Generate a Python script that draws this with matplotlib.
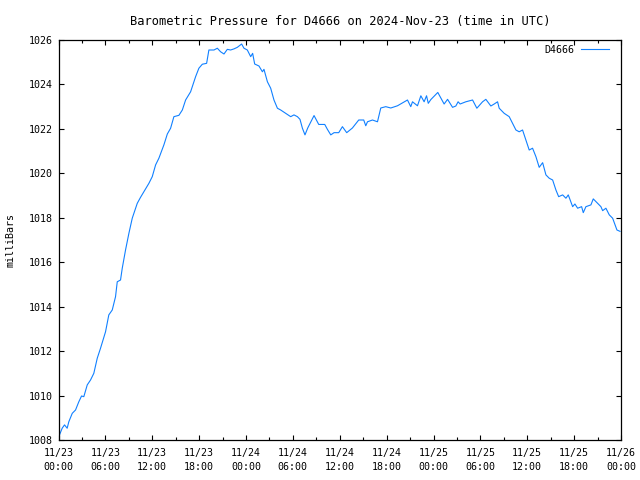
import numpy as np
import matplotlib
matplotlib.use("Agg")
import matplotlib.pyplot as plt
from matplotlib.ticker import MultipleLocator

# hours since 2024-11-23 00:00 UTC
hours = [0.04, 0.47, 0.77, 1.11, 1.32, 1.76, 2.18, 2.60, 2.95, 3.24, 3.68, 4.10,
         4.52, 4.96, 5.38, 6.02, 6.44, 6.88, 7.30, 7.52, 7.94, 8.16, 8.58, 9.01,
         9.44, 9.65, 10.08, 10.50, 10.93, 11.57, 12.00, 12.43, 12.85, 13.49, 13.93,
         14.35, 14.77, 15.41, 15.85, 16.27, 16.91, 17.55, 17.97, 18.41, 18.96, 19.25,
         19.90, 20.33, 20.75, 21.18, 21.61, 22.03, 22.46, 22.89, 23.44, 23.74, 24.17,
         24.60, 24.85, 25.11, 25.66, 26.10, 26.30, 26.74, 27.16, 27.58, 28.02, 28.44,
         29.08, 29.72, 30.14, 30.58, 30.91, 31.22, 31.55, 31.90, 32.71, 33.31, 34.08,
         34.42, 34.85, 35.27, 35.87, 36.34, 36.89, 37.62, 38.43, 39.07, 39.33, 39.55,
         40.19, 40.83, 41.25, 41.89, 42.53, 43.39, 44.67, 45.09, 45.31, 45.95, 46.38,
         46.80, 47.11, 47.33, 47.66, 48.55, 49.36, 49.80, 50.44, 50.86, 51.15, 51.41,
         52.14, 53.00, 53.55, 54.28, 54.70, 55.34, 55.77, 56.20, 56.41, 57.05, 57.69,
         58.12, 58.55, 58.97, 59.40, 59.83, 60.25, 60.68, 61.11, 61.53, 61.97, 62.39,
         62.81, 63.25, 63.67, 64.02, 64.53, 64.95, 65.25, 65.81, 66.10, 66.45, 66.96,
         67.17, 67.51, 68.15, 68.45, 69.01, 69.43, 69.65, 70.07, 70.50, 70.93, 71.48,
         71.87]

pressure = [1008.15, 1008.53, 1008.68, 1008.53, 1008.82, 1009.20, 1009.35, 1009.72,
            1009.98, 1009.95, 1010.48, 1010.70, 1011.00, 1011.68, 1012.13, 1012.87,
            1013.63, 1013.85, 1014.45, 1015.12, 1015.20, 1015.73, 1016.55, 1017.30,
            1017.98, 1018.20, 1018.65, 1018.92, 1019.17, 1019.55, 1019.85, 1020.38,
            1020.68, 1021.28, 1021.77, 1022.03, 1022.55, 1022.61, 1022.85, 1023.30,
            1023.67, 1024.35, 1024.73, 1024.91, 1024.95, 1025.55, 1025.55, 1025.63,
            1025.47, 1025.37, 1025.58, 1025.55, 1025.60, 1025.67, 1025.82, 1025.63,
            1025.55, 1025.25, 1025.40, 1024.92, 1024.83, 1024.57, 1024.68, 1024.12,
            1023.83, 1023.30, 1022.93, 1022.85, 1022.70, 1022.55, 1022.63, 1022.55,
            1022.43, 1022.03, 1021.73, 1022.04, 1022.60, 1022.20, 1022.20, 1021.98,
            1021.73, 1021.83, 1021.83, 1022.10, 1021.83, 1022.04, 1022.40, 1022.40,
            1022.14, 1022.32, 1022.40, 1022.32, 1022.94, 1023.00, 1022.94, 1023.04,
            1023.30, 1023.00, 1023.22, 1023.04, 1023.49, 1023.22, 1023.49, 1023.15,
            1023.32, 1023.64, 1023.12, 1023.33, 1022.97, 1023.03, 1023.22, 1023.12,
            1023.22, 1023.30, 1022.93, 1023.22, 1023.33, 1023.03, 1023.12, 1023.22,
            1022.93, 1022.70, 1022.55, 1022.25, 1021.95, 1021.87, 1021.95, 1021.50,
            1021.05, 1021.13, 1020.75, 1020.27, 1020.48, 1019.93, 1019.78, 1019.70,
            1019.25, 1018.95, 1019.03, 1018.88, 1019.03, 1018.50, 1018.62, 1018.43,
            1018.50, 1018.23, 1018.50, 1018.58, 1018.85, 1018.65, 1018.50, 1018.32,
            1018.43, 1018.13, 1017.98, 1017.45, 1017.39]

xtick_hours = [0, 6, 12, 18, 24, 30, 36, 42, 48, 54, 60, 66, 72]
xtick_labels = ["11/23\n00:00", "11/23\n06:00", "11/23\n12:00", "11/23\n18:00",
                "11/24\n00:00", "11/24\n06:00", "11/24\n12:00", "11/24\n18:00",
                "11/25\n00:00", "11/25\n06:00", "11/25\n12:00", "11/25\n18:00",
                "11/26\n00:00"]
ytick_values = [1008, 1010, 1012, 1014, 1016, 1018, 1020, 1022, 1024, 1026]

plt.rcParams['font.family'] = ['DejaVu Sans Mono']
plt.rcParams['font.size'] = 7.2

fig = plt.figure(figsize=(6.4, 4.8), dpi=100)
ax = fig.add_axes([58.5 / 640, 40 / 480, 562.5 / 640, 400 / 480])

ax.plot(hours, pressure, color='#1080ff', linewidth=0.8, label='D4666')

ax.set_xlim(0, 72)
ax.set_ylim(1008, 1026)
ax.set_xticks(xtick_hours)
ax.set_xticklabels(xtick_labels, linespacing=1.45)
ax.xaxis.set_minor_locator(MultipleLocator(3))
ax.set_yticks(ytick_values)
ax.tick_params(which='both', direction='in', top=True, right=True,
               width=0.8, colors='black')
ax.tick_params(which='major', length=3.5)
ax.tick_params(which='minor', length=2.3)
ax.tick_params(axis='x', which='major', pad=6)
ax.tick_params(axis='y', which='major', pad=4.4)
for s in ax.spines.values():
    s.set_linewidth(0.9)

ax.set_ylabel("milliBars", labelpad=9)
ax.set_title("Barometric Pressure for D4666 on 2024-Nov-23 (time in UTC)", pad=11)

leg = ax.legend(loc='upper right', bbox_to_anchor=(0.979, 0.988), frameon=False,
                handlelength=2.8, markerfirst=False, borderaxespad=0,
                borderpad=0, handletextpad=0.7)

fig.savefig("out.png", dpi=100)
